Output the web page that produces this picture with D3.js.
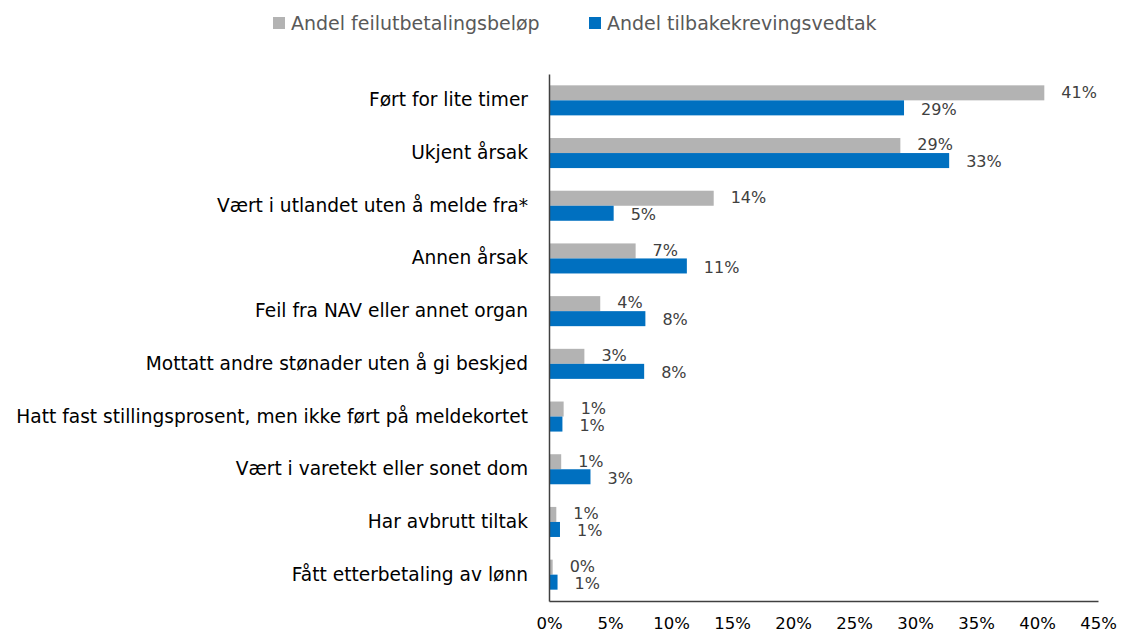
<!DOCTYPE html>
<html>
<head>
<meta charset="utf-8">
<script src="https://cdn.jsdelivr.net/npm/d3@7"></script>
<style>
  body { margin: 0; background: #fff; }
  svg { display: block; }
  text { font-family: "DejaVu Sans", sans-serif; }
</style>
</head>
<body>
<svg id="chart" width="1121" height="635"></svg>
<script>
const categories = [
  "Ført for lite timer",
  "Ukjent årsak",
  "Vært i utlandet uten å melde fra*",
  "Annen årsak",
  "Feil fra NAV eller annet organ",
  "Mottatt andre stønader uten å gi beskjed",
  "Hatt fast stillingsprosent, men ikke ført på meldekortet",
  "Vært i varetekt eller sonet dom",
  "Har avbrutt tiltak",
  "Fått etterbetaling av lønn"
];
const seriesNames = ["Andel feilutbetalingsbeløp", "Andel tilbakekrevingsvedtak"];
const feilutbetaling = [40.6, 28.8, 13.5, 7.1, 4.2, 2.9, 1.2, 1.0, 0.6, 0.3];
const tilbakekreving = [29.1, 32.8, 5.3, 11.3, 7.9, 7.8, 1.1, 3.4, 0.9, 0.7];
const feilLabels = ["41%", "29%", "14%", "7%", "4%", "3%", "1%", "1%", "1%", "0%"];
const tilbLabels = ["29%", "33%", "5%", "11%", "8%", "8%", "1%", "3%", "1%", "1%"];
const xTicks = [0, 5, 10, 15, 20, 25, 30, 35, 40, 45];
const colors = ["#b3b3b3", "#0070c0"];

const svg = d3.select("#chart");
const mLeft = 549, mRight = 1098, mTop = 74, mBottom = 601;

const x = d3.scaleLinear().domain([0, 45]).range([mLeft, mRight]);
const y = d3.scaleBand().domain(categories).range([mTop, mBottom]).paddingInner(0.43).paddingOuter(0.215);
const ySub = d3.scaleBand().domain([0, 1]).range([0, y.bandwidth()]);

const data = categories.map((c, i) => ({
  cat: c,
  vals: [
    { s: 0, v: feilutbetaling[i], label: feilLabels[i] },
    { s: 1, v: tilbakekreving[i], label: tilbLabels[i] }
  ]
}));

const groups = svg.append("g").selectAll("g").data(data).join("g")
  .attr("transform", d => `translate(0,${y(d.cat)})`);

groups.selectAll("rect").data(d => d.vals).join("rect")
  .attr("x", x(0))
  .attr("y", d => ySub(d.s))
  .attr("width", d => x(d.v) - x(0))
  .attr("height", ySub.bandwidth())
  .attr("fill", d => colors[d.s]);

groups.selectAll("text.lbl").data(d => d.vals).join("text")
  .attr("class", "lbl")
  .attr("x", d => x(d.v) + 17)
  .attr("y", d => ySub(d.s) + ySub.bandwidth() / 2 + (d.s === 0 ? -1 : 1))
  .attr("dy", "0.36em")
  .attr("font-size", 16)
  .attr("fill", "#404040")
  .text(d => d.label);

// category axis
const yAxis = d3.axisLeft(y).tickSize(0).tickPadding(21);
const gy = svg.append("g").attr("transform", `translate(${mLeft},0)`).call(yAxis);
gy.select(".domain").attr("stroke", "#404040").attr("stroke-width", 1.5);
gy.selectAll("text").attr("font-size", 18.6).attr("fill", "#000").attr("font-family", "DejaVu Sans, sans-serif");

// x axis
const xAxis = d3.axisBottom(x).tickValues(xTicks).tickSize(0).tickPadding(16).tickFormat(d => d + "%");
const gx = svg.append("g").attr("transform", `translate(0,${mBottom})`).call(xAxis);
gx.select(".domain").attr("stroke", "#404040").attr("stroke-width", 1.5);
gx.selectAll("text").attr("font-size", 16.5).attr("fill", "#000").attr("font-family", "DejaVu Sans, sans-serif");

// legend
const legendX = [273, 589];
const lg = svg.append("g").selectAll("g").data(seriesNames).join("g")
  .attr("transform", (d, i) => `translate(${legendX[i]},17)`);
lg.append("rect").attr("width", 12).attr("height", 12).attr("fill", (d, i) => colors[i]);
lg.append("text").attr("x", 18).attr("y", 6).attr("dy", "0.36em")
  .attr("font-size", 19).attr("fill", "#595959").text(d => d);
</script>
</body>
</html>
